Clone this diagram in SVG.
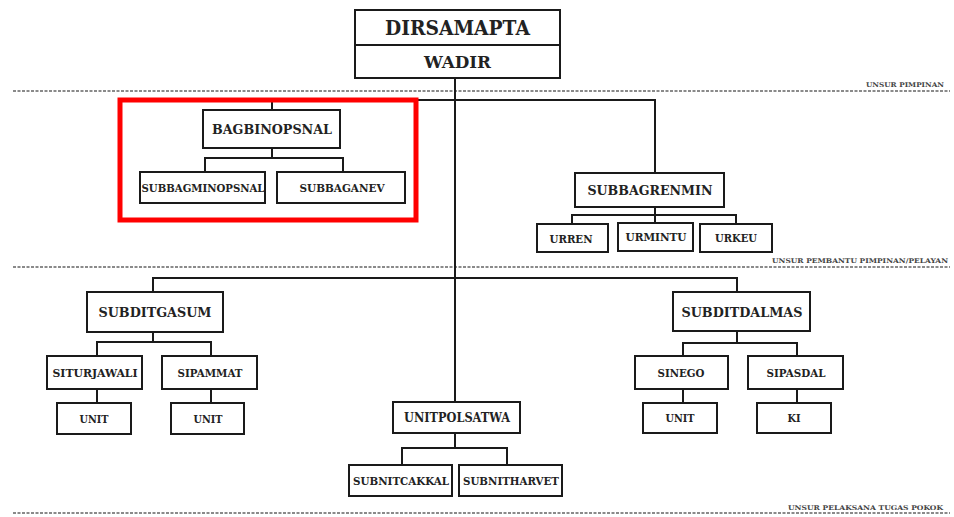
<svg xmlns="http://www.w3.org/2000/svg" width="954" height="517" viewBox="0 0 954 517">
<style>
.box{fill:#fff;stroke:#1a1a1a;stroke-width:2}
.t{font-family:"DejaVu Serif","Liberation Serif",serif;font-weight:bold;fill:#222;text-anchor:middle}
.sep{stroke:#8a8a8a;stroke-width:2;stroke-dasharray:3 1.5;fill:none}
.lbl{font-family:"DejaVu Serif","Liberation Serif",serif;font-weight:bold;fill:#444;font-size:6.5px;text-anchor:end}
.c{stroke:#1a1a1a;stroke-width:2;fill:none}
</style>
<rect width="954" height="517" fill="#fff"/>
<g id="separators">
<line class="sep" x1="13" y1="91" x2="950" y2="91"/>
<line class="sep" x1="13" y1="267" x2="950" y2="267"/>
<line class="sep" x1="13" y1="513" x2="950" y2="513"/>
<text class="lbl" x="944" y="87" textLength="78" lengthAdjust="spacingAndGlyphs">UNSUR PIMPINAN</text>
<text class="lbl" x="948" y="263" textLength="176" lengthAdjust="spacingAndGlyphs">UNSUR  PEMBANTU PIMPINAN/PELAYAN</text>
<text class="lbl" x="943" y="510" textLength="155" lengthAdjust="spacingAndGlyphs">UNSUR PELAKSANA TUGAS POKOK</text>
</g>
<g id="connectors">
<path class="c" d="M455 78 V402"/>
<path class="c" d="M272 110 V100 H655 V173"/>
<path class="c" d="M272 148 V158 M205 172 V158 H343 V172"/>
<path class="c" d="M655 207 V224 M572 224 V215 H736 V224"/>
<path class="c" d="M153 292 V278 H737 V292"/>
<path class="c" d="M153 332 V342 M97 356 V342 H211 V356"/>
<path class="c" d="M97 389 V403 M211 389 V403"/>
<path class="c" d="M737 331 V343 M683 356 V343 H797 V356"/>
<path class="c" d="M683 389 V403 M797 389 V403"/>
<path class="c" d="M455 433 V448 M402 465 V448 H507 V465"/>
</g>
<g id="dirsamapta">
<rect class="box" x="355" y="10" width="205" height="35"/>
<text class="t" x="457.5" y="35" font-size="20" textLength="145" lengthAdjust="spacingAndGlyphs">DIRSAMAPTA</text>
</g>
<g id="wadir">
<rect class="box" x="355" y="45" width="205" height="33"/>
<text class="t" x="457.5" y="68" font-size="16" textLength="67" lengthAdjust="spacingAndGlyphs">WADIR</text>
</g>
<g id="highlight">
<rect x="120" y="100" width="296" height="120" fill="none" stroke="#f00" stroke-width="5"/>
</g>
<g id="bagbinopsnal">
<rect class="box" x="203" y="110" width="137" height="38"/>
<text class="t" x="272" y="134" font-size="13" textLength="120" lengthAdjust="spacingAndGlyphs">BAGBINOPSNAL</text>
</g>
<g id="subbagminopsnal">
<rect class="box" x="140" y="172" width="125" height="31"/>
<text class="t" x="203" y="192" font-size="11" textLength="123" lengthAdjust="spacingAndGlyphs">SUBBAGMINOPSNAL</text>
</g>
<g id="subbaganev">
<rect class="box" x="277" y="172" width="128" height="31"/>
<text class="t" x="342" y="192" font-size="11" textLength="85" lengthAdjust="spacingAndGlyphs">SUBBAGANEV</text>
</g>
<g id="subbagrenmin">
<rect class="box" x="575" y="173" width="149" height="34"/>
<text class="t" x="650" y="195" font-size="13" textLength="125" lengthAdjust="spacingAndGlyphs">SUBBAGRENMIN</text>
</g>
<g id="urren">
<rect class="box" x="537" y="224" width="71" height="28"/>
<text class="t" x="571" y="243" font-size="11" textLength="43" lengthAdjust="spacingAndGlyphs">URREN</text>
</g>
<g id="urmintu">
<rect class="box" x="618" y="223" width="75" height="28"/>
<text class="t" x="656" y="241" font-size="11" textLength="61" lengthAdjust="spacingAndGlyphs">URMINTU</text>
</g>
<g id="urkeu">
<rect class="box" x="700" y="224" width="72" height="28"/>
<text class="t" x="736" y="242" font-size="11" textLength="42" lengthAdjust="spacingAndGlyphs">URKEU</text>
</g>
<g id="subditgasum">
<rect class="box" x="87" y="292" width="136" height="40"/>
<text class="t" x="155" y="317" font-size="13" textLength="113" lengthAdjust="spacingAndGlyphs">SUBDITGASUM</text>
</g>
<g id="siturjawali">
<rect class="box" x="47" y="356" width="95" height="33"/>
<text class="t" x="95" y="377" font-size="11" textLength="85" lengthAdjust="spacingAndGlyphs">SITURJAWALI</text>
</g>
<g id="sipammat">
<rect class="box" x="162" y="356" width="95" height="33"/>
<text class="t" x="210" y="377" font-size="11" textLength="65" lengthAdjust="spacingAndGlyphs">SIPAMMAT</text>
</g>
<g id="unit1">
<rect class="box" x="57" y="403" width="74" height="31"/>
<text class="t" x="94" y="423" font-size="11" textLength="29" lengthAdjust="spacingAndGlyphs">UNIT</text>
</g>
<g id="unit2">
<rect class="box" x="171" y="403" width="73" height="31"/>
<text class="t" x="208" y="423" font-size="11" textLength="29" lengthAdjust="spacingAndGlyphs">UNIT</text>
</g>
<g id="subditdalmas">
<rect class="box" x="673" y="292" width="137" height="39"/>
<text class="t" x="742" y="317" font-size="13" textLength="121" lengthAdjust="spacingAndGlyphs">SUBDITDALMAS</text>
</g>
<g id="sinego">
<rect class="box" x="635" y="356" width="93" height="33"/>
<text class="t" x="681" y="377" font-size="11" textLength="47" lengthAdjust="spacingAndGlyphs">SINEGO</text>
</g>
<g id="sipasdal">
<rect class="box" x="748" y="356" width="95" height="33"/>
<text class="t" x="796" y="377" font-size="11" textLength="59" lengthAdjust="spacingAndGlyphs">SIPASDAL</text>
</g>
<g id="unit3">
<rect class="box" x="643" y="403" width="74" height="30"/>
<text class="t" x="680" y="422" font-size="11" textLength="29" lengthAdjust="spacingAndGlyphs">UNIT</text>
</g>
<g id="ki">
<rect class="box" x="757" y="403" width="74" height="30"/>
<text class="t" x="794" y="422" font-size="11" textLength="13" lengthAdjust="spacingAndGlyphs">KI</text>
</g>
<g id="unitpolsatwa">
<rect class="box" x="393" y="402" width="127" height="31"/>
<text class="t" x="457" y="422" font-size="12" textLength="106" lengthAdjust="spacingAndGlyphs">UNITPOLSATWA</text>
</g>
<g id="subnitcakkal">
<rect class="box" x="349" y="465" width="103" height="31"/>
<text class="t" x="401" y="485" font-size="11" textLength="96" lengthAdjust="spacingAndGlyphs">SUBNITCAKKAL</text>
</g>
<g id="subnitharvet">
<rect class="box" x="459" y="465" width="103" height="31"/>
<text class="t" x="511" y="485" font-size="11" textLength="96" lengthAdjust="spacingAndGlyphs">SUBNITHARVET</text>
</g>
</svg>
